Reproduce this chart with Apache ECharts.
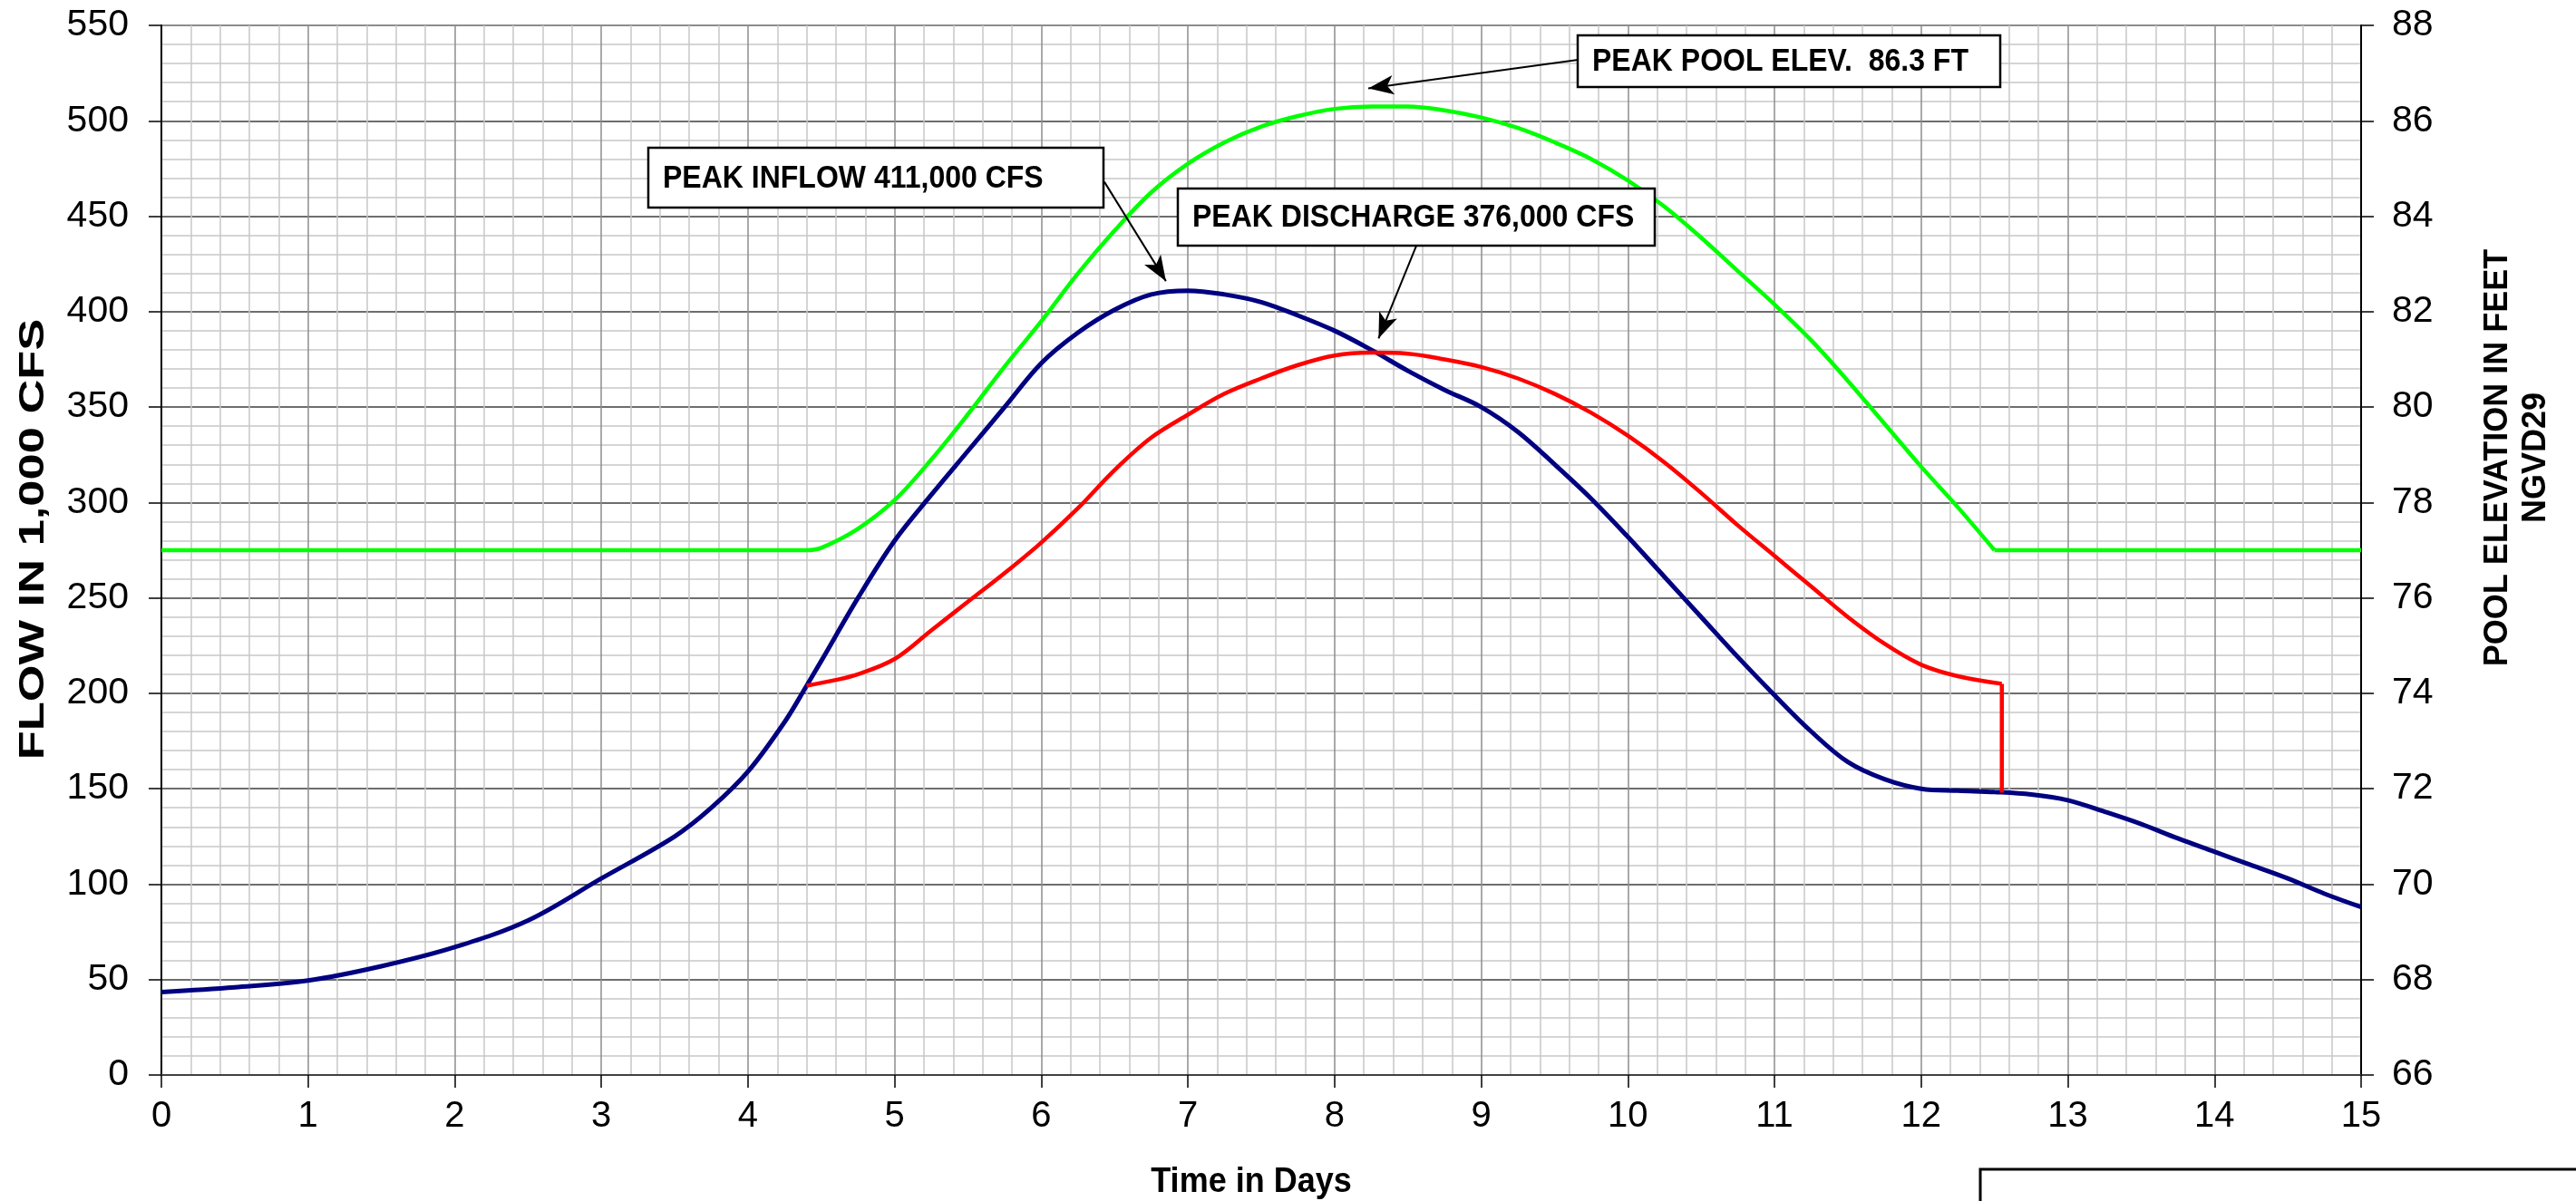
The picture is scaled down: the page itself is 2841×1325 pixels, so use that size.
<!DOCTYPE html>
<html>
<head>
<meta charset="utf-8">
<script src="https://cdn.jsdelivr.net/npm/echarts@6/dist/echarts.min.js"></script>
<style>
html,body{margin:0;padding:0;background:#fff;}
#chart{width:2841px;height:1325px;}
</style>
</head>
<body>
<div id="chart"></div>
<script>
// ---------------- DATA ----------------
const inflowDays = [0,0.5,1,1.5,2,2.5,3,3.5,3.75,4,4.25,4.4,4.5,4.75,5,5.25,5.5,5.75,6,6.25,6.5,6.75,7,7.25,7.5,7.75,8,8.25,8.5,8.75,9,9.25,9.5,9.75,10,10.25,10.5,10.75,11,11.25,11.5,11.75,12,12.25,12.5,12.75,13,13.25,13.5,13.75,14,14.25,14.5,14.75,15];
const inflowFlow = [43.5,46,49.5,57,67,81,103,125,140,159,185,204,217,250,280,304,327,350,373,389,401,409,411,409,405,398,390,380,369,359,350,337,320,302,282,261,240,219,199,180,164,155,150,149,148.3,147,144,138,131.5,124,117,110,103,95,88];

const dischargeDays = [4.4,4.6,4.75,5,5.25,5.5,5.75,6,6.25,6.5,6.75,7,7.25,7.5,7.75,8,8.25,8.5,8.75,9,9.25,9.5,9.75,10,10.25,10.5,10.75,11,11.25,11.5,11.75,12,12.25,12.55,12.55];
const dischargeFlow = [204,207,210,218,233,248,263,279,297,317,334,346,357,365,372,377,378.5,378,375,371,365,357,347,335,321,305,288,272,256,240,226,215,209,205,148];

const poolDays = [0,4.4,4.5,4.75,5,5.25,5.5,5.75,6,6.25,6.5,6.75,7,7.25,7.5,7.75,8,8.25,8.5,8.75,9,9.25,9.5,9.75,10,10.25,10.5,10.75,11,11.25,11.5,11.75,12,12.25,12.5,15];
const poolElev = [77.0,77.0,77.05,77.45,78.05,78.9,79.85,80.85,81.8,82.8,83.7,84.5,85.1,85.55,85.88,86.1,86.25,86.3,86.3,86.22,86.07,85.85,85.55,85.2,84.75,84.2,83.55,82.85,82.15,81.4,80.55,79.65,78.75,77.9,77.0,77.0];

const dayTicks = [0,1,2,3,4,5,6,7,8,9,10,11,12,13,14,15];
const flowTicks = [0,50,100,150,200,250,300,350,400,450,500,550];
const elevTicks = [66,68,70,72,74,76,78,80,82,84,86,88];

const axisTitles = ['Time in Days', 'FLOW IN 1,000 CFS', 'POOL ELEVATION IN FEET\nNGVD29'];
const noteTexts = ['PEAK INFLOW 411,000 CFS', 'PEAK DISCHARGE 376,000 CFS', 'PEAK POOL ELEV.  86.3 FT'];
// arrow start / tip in (day, flow) units
const noteArrowFrom = [[6.43, 468], [8.56, 435], [9.66, 532]];
const noteArrowTo   = [[6.85, 416], [8.30, 386], [8.23, 517]];

// ---------------- LAYOUT ----------------
const FONT = '"Liberation Sans", Arial, Helvetica, sans-serif';
const noteBoxes = [[715,163,502,66],[1299,208,526,63],[1740,39,466,57]];

const zip = (xs, ys) => xs.map((x, i) => [x, ys[i]]);
const inflowData = zip(inflowDays, inflowFlow);
const dischargeAll = zip(dischargeDays, dischargeFlow);
const dischargeCurve = dischargeAll.slice(0, dischargeAll.length - 1);
const dischargeDrop = dischargeAll.slice(dischargeAll.length - 2);
const poolAll = zip(poolDays, poolElev);
const poolCurve = poolAll.slice(0, poolAll.length - 1);
const poolTail = poolAll.slice(poolAll.length - 2);

const chart = echarts.init(document.getElementById('chart'), null, {renderer: 'canvas'});

const ySplitColors = flowTicks.map((v, i) => i === flowTicks.length - 1 ? '#8c8c8c' : '#3c3c3c');

const graphics = [];
noteBoxes.forEach((b, i) => {
  graphics.push({
    type: 'rect', z: 100,
    shape: {x: b[0], y: b[1], width: b[2], height: b[3]},
    style: {fill: '#fff', stroke: '#000', lineWidth: 2.5}
  });
  graphics.push({
    type: 'text', z: 101,
    x: b[0] + 16, y: b[1] + b[3] / 2 + 1, scaleY: 1.12,
    style: {text: noteTexts[i], font: 'bold 32px ' + FONT, fill: '#000', textAlign: 'left', textVerticalAlign: 'middle'}
  });
});
// x axis title
graphics.push({type: 'text', z: 50, x: 1380, y: 1304, scaleY: 1.1,
  style: {text: axisTitles[0], font: 'bold 36px ' + FONT, fill: '#000', textAlign: 'center', textVerticalAlign: 'middle'}});
// left axis title
graphics.push({type: 'text', z: 50, x: 38, y: 595, rotation: Math.PI / 2, scaleX: 1.38,
  style: {text: axisTitles[1], font: 'bold 38px ' + FONT, fill: '#000', textAlign: 'center', textVerticalAlign: 'middle'}});
// right axis title
graphics.push({type: 'text', z: 50, x: 2776, y: 505, rotation: Math.PI / 2,
  style: {text: axisTitles[2], font: 'bold 36px ' + FONT, fill: '#000', textAlign: 'center', textVerticalAlign: 'middle', lineHeight: 42}});
// bottom-right box
graphics.push({type: 'rect', z: 50, shape: {x: 2184, y: 1290, width: 800, height: 120},
  style: {fill: 'none', stroke: '#000', lineWidth: 3}});

const arrowLines = noteArrowFrom.map((f, i) => [{coord: f}, {coord: noteArrowTo[i]}]);

chart.setOption({
  animation: false,
  backgroundColor: '#fff',
  textStyle: {fontFamily: FONT},
  grid: {left: 178, right: 237, top: 28, bottom: 139, show: true, borderColor: '#8c8c8c', borderWidth: 2, backgroundColor: 'transparent'},
  xAxis: {
    type: 'value', min: dayTicks[0], max: dayTicks[dayTicks.length - 1], interval: 1,
    axisLine: {show: true, onZero: false, lineStyle: {color: '#404040', width: 2}},
    axisTick: {show: true, length: 14, lineStyle: {color: '#000', width: 1.5}},
    axisLabel: {fontSize: 40, color: '#000', margin: 26, fontFamily: FONT},
    splitLine: {show: true, lineStyle: {color: '#8c8c8c', width: 1.5}},
    minorTick: {show: false, splitNumber: 5},
    minorSplitLine: {show: true, lineStyle: {color: '#c8c8c8', width: 1.5}}
  },
  yAxis: [{
    type: 'value', position: 'left', min: flowTicks[0], max: flowTicks[flowTicks.length - 1], interval: 50,
    axisLine: {show: true, onZero: false, lineStyle: {color: '#000', width: 2}},
    axisTick: {show: true, length: 14, lineStyle: {color: '#000', width: 1.5}},
    axisLabel: {fontSize: 41, color: '#000', margin: 36, fontFamily: FONT},
    splitLine: {show: true, lineStyle: {color: ySplitColors, width: 1.5}},
    minorTick: {show: false, splitNumber: 5},
    minorSplitLine: {show: true, lineStyle: {color: '#c8c8c8', width: 1.5}}
  }, {
    type: 'value', position: 'right', min: elevTicks[0], max: elevTicks[elevTicks.length - 1], interval: 2,
    axisLine: {show: true, onZero: false, lineStyle: {color: '#000', width: 2}},
    axisTick: {show: true, length: 14, lineStyle: {color: '#000', width: 1.5}},
    axisLabel: {fontSize: 41, color: '#000', margin: 34, fontFamily: FONT},
    splitLine: {show: false}
  }],
  graphic: graphics,
  series: [
    {name: 'Pool', type: 'line', yAxisIndex: 1, data: poolCurve, smooth: 0.35, showSymbol: false, symbol: 'none',
      lineStyle: {color: '#00ff00', width: 4.5}, z: 3, silent: true},
    {name: 'PoolTail', type: 'line', yAxisIndex: 1, data: poolTail, smooth: false, showSymbol: false, symbol: 'none',
      lineStyle: {color: '#00ff00', width: 4.5}, z: 3, silent: true},
    {name: 'Inflow', type: 'line', yAxisIndex: 0, data: inflowData, smooth: 0.35, showSymbol: false, symbol: 'none',
      lineStyle: {color: '#000080', width: 5}, z: 4, silent: true,
      markLine: {silent: true, animation: false, symbol: ['none', 'arrow'], symbolSize: [16, 28],
        lineStyle: {color: '#000', width: 2, type: 'solid'}, label: {show: false},
        emphasis: {disabled: true}, data: arrowLines}},
    {name: 'Discharge', type: 'line', yAxisIndex: 0, data: dischargeCurve, smooth: 0.35, showSymbol: false, symbol: 'none',
      lineStyle: {color: '#ff0000', width: 4.5}, z: 5, silent: true},
    {name: 'DischargeDrop', type: 'line', yAxisIndex: 0, data: dischargeDrop, smooth: false, showSymbol: false, symbol: 'none',
      lineStyle: {color: '#ff0000', width: 4.5}, z: 5, silent: true}
  ]
});
</script>
</body>
</html>
